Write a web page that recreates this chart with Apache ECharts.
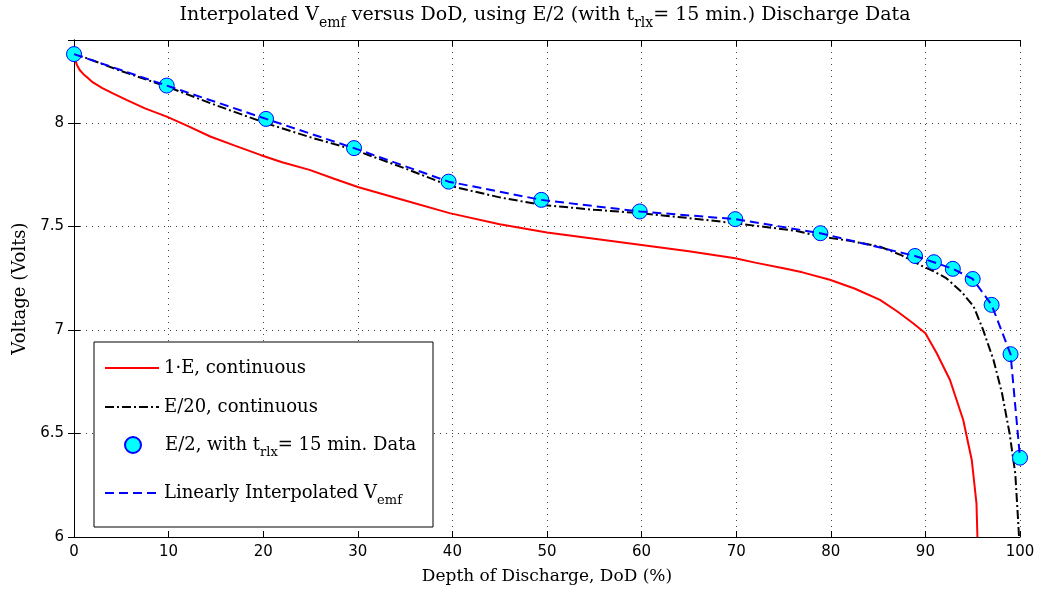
<!DOCTYPE html>
<html>
<head>
<meta charset="utf-8">
<script src="https://cdn.jsdelivr.net/npm/echarts@6/dist/echarts.min.js"></script>
<style>html,body{margin:0;padding:0;background:#fff}#c{width:1039px;height:599px}</style>
</head>
<body>
<div id="c"></div>
<script>
// ---- data ----
const xTicks = [0,10,20,30,40,50,60,70,80,90,100];
const yTicks = [6,6.5,7,7.5,8];

// 1·E continuous discharge [DoD %, V]
const redDoD = [0,0.1,0.3,0.6,1,1.5,2,3,4,5.6,7.5,9.8,12,14.4,17,19.7,22,24.9,27.5,30,35,39.7,45,50,55,59.8,65,69.9,72,75,77,79.9,82.5,85.2,87,88.7,90,91.2,92.6,94,94.9,95.4,95.5];
const redV   = [8.34,8.31,8.28,8.255,8.235,8.215,8.195,8.168,8.145,8.11,8.07,8.03,7.985,7.934,7.89,7.845,7.81,7.773,7.73,7.69,7.625,7.564,7.51,7.47,7.44,7.411,7.38,7.346,7.325,7.298,7.278,7.242,7.2,7.145,7.09,7.032,6.984,6.887,6.758,6.565,6.372,6.162,6.0];

// E/20 continuous discharge
const blackDoD = [0,5,9.8,15,20.3,25,29.6,35,39.7,45,49.4,55,59.8,65,69.9,76.4,78.9,82,85.2,87.5,89.4,91,92.2,93.8,95.1,96.1,97.2,98.1,98.9,99.5,99.8,99.9];
const blackV   = [8.335,8.25,8.175,8.085,7.998,7.93,7.87,7.78,7.696,7.64,7.604,7.58,7.564,7.54,7.515,7.478,7.451,7.43,7.402,7.36,7.314,7.28,7.25,7.185,7.113,7.0,6.855,6.694,6.5,6.307,6.08,6.0];

// E/2 with t_rlx = 15 min data points (also used for linear interpolation)
const ptDoD = [0,9.8,20.3,29.6,39.6,49.4,59.8,69.9,78.9,88.9,90.9,92.9,95.0,97.0,99.0,100];
const ptV   = [8.332,8.180,8.019,7.878,7.716,7.628,7.572,7.535,7.467,7.357,7.327,7.295,7.246,7.121,6.883,6.383];

const names = ['1\u00b7E, continuous','E/20, continuous','E/2, with t_rlx = 15 min. Data','Linearly Interpolated V_emf'];

function zip(a,b){return a.map((v,i)=>[v,b[i]]);}

const serif = 'DejaVu Serif';
const sans = 'DejaVu Sans';
const rich = {
  t:{fontFamily:serif,fontSize:18,color:'#000'},
  s:{fontFamily:serif,fontSize:13,color:'#000',padding:[15,0,0,0]},
  tp:{fontFamily:serif,fontSize:18,color:'#000',padding:[0,0,0,19]}
};
const titleRich = {
  t:{fontFamily:serif,fontSize:19,color:'#000'},
  s:{fontFamily:serif,fontSize:14,color:'#000',padding:[15,0,0,0]}
};
function legendFmt(n){
  if(n===names[2]) return '{tp|E/2, with t}{s|rlx}{t|= 15 min. Data}';
  if(n===names[3]) return '{t|Linearly Interpolated V}{s|emf}';
  return '{t|'+n+'}';
}
const legTops = [354,393,431,479];
const legends = names.map((n,i)=>({
  data:[n], orient:'vertical', left: i===2 ? 119 : 99, top:legTops[i], z:10,
  itemWidth: i===2 ? 16 : 54, itemHeight: i===2 ? 16 : 14, selectedMode:false,
  itemStyle: i===2 ? {} : {opacity:0},
  formatter:legendFmt, textStyle:{rich:rich, fontFamily:serif, fontSize:18, color:'#000'}
}));

const chart = echarts.init(document.getElementById('c'));
const gridLine = {show:true, lineStyle:{color:'#444', type:[1,5], width:1}};
chart.setOption({
  animation:false,
  backgroundColor:'#fff',
  title:{
    text:'{t|Interpolated V}{s|emf}{t| versus DoD, using E/2 (with t}{s|rlx}{t|= 15 min.) Discharge Data}',
    left:540, top:-4, textAlign:'center',
    textStyle:{rich:titleRich, fontWeight:'normal'}
  },
  legend:legends,
  graphic:[{type:'rect', shape:{x:94,y:342,width:339,height:185}, style:{fill:'#fff',stroke:'#000',lineWidth:1}, z:8}],
  grid:{left:74,right:19,top:40,bottom:62},
  xAxis:[{
    type:'value', min:0, max:100, interval:10,
    name:'Depth of Discharge, DoD (%)', nameLocation:'middle', nameGap:31,
    nameTextStyle:{fontFamily:serif,fontSize:17,color:'#000'},
    axisLine:{lineStyle:{color:'#000'}},
    axisTick:{inside:true,length:6,lineStyle:{color:'#000'}},
    axisLabel:{fontFamily:sans,fontSize:15,color:'#000',margin:8},
    splitLine:gridLine
  },{
    type:'value', position:'top', min:0, max:100, interval:10,
    axisLine:{lineStyle:{color:'#000'}},
    axisTick:{inside:true,length:6,lineStyle:{color:'#000'}},
    axisLabel:{show:false}, splitLine:{show:false}
  }],
  yAxis:[{
    type:'value', min:6, max:8.4, interval:0.5,
    name:'Voltage (Volts)', nameLocation:'middle', nameGap:41,
    nameTextStyle:{fontFamily:serif,fontSize:18,color:'#000'},
    axisLine:{show:true,lineStyle:{color:'#000'}},
    axisTick:{show:true,inside:true,length:6,lineStyle:{color:'#000'}},
    axisLabel:{fontFamily:sans,fontSize:15,color:'#000',margin:10,showMaxLabel:false},
    splitLine:gridLine
  },{
    type:'value', position:'right', min:6, max:8.4, interval:0.5,
    axisLine:{show:true,lineStyle:{color:'#000'}},
    axisTick:{show:true,inside:true,length:6,lineStyle:{color:'#000'}},
    axisLabel:{show:false}, splitLine:{show:false}
  }],
  series:[
    {name:names[0], type:'line', data:zip(redDoD,redV), symbol:'none', smooth:false,
     lineStyle:{color:'#ff0000',width:2}, itemStyle:{color:'#ff0000'}, z:2},
    {name:names[1], type:'line', data:zip(blackDoD,blackV), symbol:'none', smooth:false,
     lineStyle:{color:'#000',width:2,type:[9,3,2,3]}, itemStyle:{color:'#000'}, z:3},
    {name:names[2], type:'scatter', data:zip(ptDoD,ptV), symbol:'circle', symbolSize:15,
     itemStyle:{color:'#00ffff',borderColor:'#0000ff',borderWidth:1,opacity:1}, z:4},
    {name:names[3], type:'line', data:zip(ptDoD,ptV), symbol:'none',
     lineStyle:{color:'#0000ff',width:2,type:[9,5]}, itemStyle:{color:'#0000ff'}, z:5}
  ]
});
</script>
</body>
</html>
